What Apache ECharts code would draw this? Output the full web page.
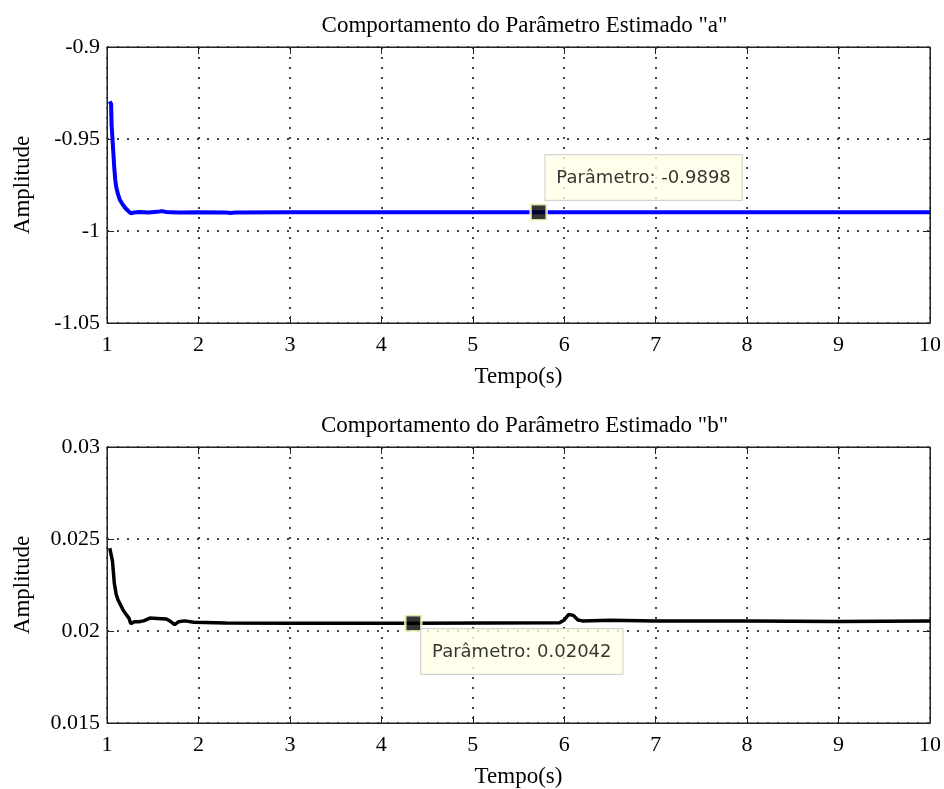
<!DOCTYPE html>
<html>
<head>
<meta charset="utf-8">
<script src="https://cdn.jsdelivr.net/npm/echarts@6/dist/echarts.min.js"></script>
<style>html,body{margin:0;padding:0;background:#fff}#c{width:944px;height:789px}</style>
</head>
<body>
<div id="c"></div>
<script>
// ---- data ----
const titleA = 'Comportamento do Parâmetro Estimado "a"';
const titleB = 'Comportamento do Parâmetro Estimado "b"';
const xName = 'Tempo(s)';
const yName = 'Amplitude';

const timeA = [1.03, 1.045, 1.05, 1.06, 1.07, 1.08, 1.09, 1.10, 1.12, 1.14, 1.17, 1.20, 1.23, 1.26, 1.30, 1.35, 1.45, 1.55, 1.60, 1.65, 1.70, 1.80, 2.00, 2.30, 2.35, 2.40, 3.0, 4.0, 5.0, 6.0, 6.33, 6.35, 6.37, 7.0, 8.0, 9.0, 10.0];
const valA  = [-0.9295, -0.931, -0.942, -0.950, -0.958, -0.966, -0.972, -0.976, -0.980, -0.983, -0.9855, -0.9875, -0.989, -0.9903, -0.9900, -0.9897, -0.9900, -0.9896, -0.9892, -0.9897, -0.9898, -0.9900, -0.9898, -0.9900, -0.9902, -0.9899, -0.9898, -0.9898, -0.9898, -0.9898, -0.9898, -0.9892, -0.9898, -0.9898, -0.9898, -0.9898, -0.9898];

const timeB = [1.03, 1.05, 1.06, 1.07, 1.08, 1.10, 1.12, 1.15, 1.18, 1.21, 1.24, 1.26, 1.28, 1.30, 1.35, 1.40, 1.47, 1.55, 1.65, 1.70, 1.74, 1.78, 1.85, 1.95, 2.30, 3.0, 4.35, 5.95, 6.0, 6.05, 6.1, 6.15, 6.2, 6.5, 7.0, 8.0, 9.0, 10.0];
const valB  = [0.0245, 0.0244, 0.0238, 0.0232, 0.0226, 0.0220, 0.0217, 0.0214, 0.0211, 0.0209, 0.0207, 0.0204, 0.02035, 0.0205, 0.0205, 0.02055, 0.0207, 0.02068, 0.02065, 0.0205, 0.02035, 0.0205, 0.02055, 0.02048, 0.02043, 0.02042, 0.02042, 0.02045, 0.0206, 0.0209, 0.02085, 0.0206, 0.02055, 0.02058, 0.02055, 0.02055, 0.02052, 0.02055];

const tipA = [5.72, -0.9898];
const tipB = [4.35, 0.02042];
const tipLabelA = 'Parâmetro: -0.9898';
const tipLabelB = 'Parâmetro: 0.02042';

const xMin = 1, xMax = 10, xStep = 1;
const yARange = [-1.05, -0.9, 0.05];
const yBRange = [0.015, 0.03, 0.005];

// ---- chart ----
const serif = 'Liberation Serif';
const fs = 22;
const axisCol = '#222';
const grids = [
  {left: 107, right: 12, top: 47, height: 276, show: true, borderColor: axisCol, borderWidth: 1},
  {left: 107, right: 12, top: 447, height: 276, show: true, borderColor: axisCol, borderWidth: 1}
];
function fmt(v) { return String(+v.toFixed(4)); }
function mainX(gi) {
  return {
    type: 'value', gridIndex: gi, min: xMin, max: xMax, interval: xStep,
    name: xName, nameLocation: 'middle', nameGap: 42,
    nameTextStyle: {fontFamily: serif, fontSize: fs + 1, color: '#000'},
    axisLine: {show: true, lineStyle: {color: axisCol, width: 1}},
    axisTick: {show: true, inside: true, length: 7, lineStyle: {color: axisCol}},
    axisLabel: {fontFamily: serif, fontSize: fs, color: '#000', margin: 11, formatter: fmt},
    splitLine: {show: true, lineStyle: {color: '#444', width: 2, type: [2, 8]}}
  };
}
function topX(gi) {
  return {
    type: 'value', gridIndex: gi, position: 'top', min: xMin, max: xMax, interval: xStep,
    axisLine: {show: true, lineStyle: {color: axisCol, width: 1}},
    axisTick: {show: true, inside: true, length: 7, lineStyle: {color: axisCol}},
    axisLabel: {show: false}, splitLine: {show: false}
  };
}
function mainY(gi, r) {
  return {
    type: 'value', gridIndex: gi, min: r[0], max: r[1], interval: r[2],
    name: yName, nameLocation: 'middle', nameGap: 73,
    nameTextStyle: {fontFamily: serif, fontSize: fs + 1, color: '#000'},
    axisLine: {show: true, lineStyle: {color: axisCol, width: 1}},
    axisTick: {show: true, inside: true, length: 7, lineStyle: {color: axisCol}},
    axisLabel: {fontFamily: serif, fontSize: fs, color: '#000', margin: 7, formatter: fmt},
    splitLine: {show: true, lineStyle: {color: '#444', width: 2, type: [2, 8]}}
  };
}
function rightY(gi, r) {
  return {
    type: 'value', gridIndex: gi, position: 'right', min: r[0], max: r[1], interval: r[2],
    axisLine: {show: true, lineStyle: {color: axisCol, width: 1}},
    axisTick: {show: true, inside: true, length: 7, lineStyle: {color: axisCol}},
    axisLabel: {show: false}, splitLine: {show: false}
  };
}
function zip(a, b) { return a.map((v, i) => [v, b[i]]); }
function tipSeries(xi, yi, pt, txt, pos) {
  return {
    type: 'scatter', xAxisIndex: xi, yAxisIndex: yi, z: 10,
    data: [pt], symbol: 'rect', symbolSize: 16,
    itemStyle: {color: '#000', borderColor: '#ffffd0', borderWidth: 2.5},
    label: {
      show: true, position: pos, formatter: txt, align: 'left', verticalAlign: 'top',
      fontFamily: 'DejaVu Sans', fontSize: 18, color: '#000',
      backgroundColor: '#ffffe6', borderColor: '#c8c8c8', borderWidth: 1,
      padding: [14, 11, 13, 11]
    },
    silent: true
  };
}
const chart = echarts.init(document.getElementById('c'), null, {renderer: 'canvas'});
chart.setOption({
  backgroundColor: '#fff',
  animation: false,
  title: [
    {text: titleA, left: 519.5, textAlign: 'center', top: 9, textStyle: {fontFamily: serif, fontSize: fs + 1, fontWeight: 'normal', color: '#000'}},
    {text: titleB, left: 519.5, textAlign: 'center', top: 409, textStyle: {fontFamily: serif, fontSize: fs + 1, fontWeight: 'normal', color: '#000'}}
  ],
  grid: grids,
  xAxis: [mainX(0), topX(0), mainX(1), topX(1)],
  yAxis: [mainY(0, yARange), rightY(0, yARange), mainY(1, yBRange), rightY(1, yBRange)],
  series: [
    {type: 'line', xAxisIndex: 0, yAxisIndex: 0, data: zip(timeA, valA), showSymbol: false,
     lineStyle: {color: '#0000ff', width: 4}, silent: true},
    {type: 'line', xAxisIndex: 2, yAxisIndex: 2, data: zip(timeB, valB), showSymbol: false,
     lineStyle: {color: '#000', width: 3.5}, silent: true},
    tipSeries(0, 0, tipA, tipLabelA, [16, -48]),
    tipSeries(2, 2, tipB, tipLabelB, [17, 15])
  ]
});
</script>
</body>
</html>
